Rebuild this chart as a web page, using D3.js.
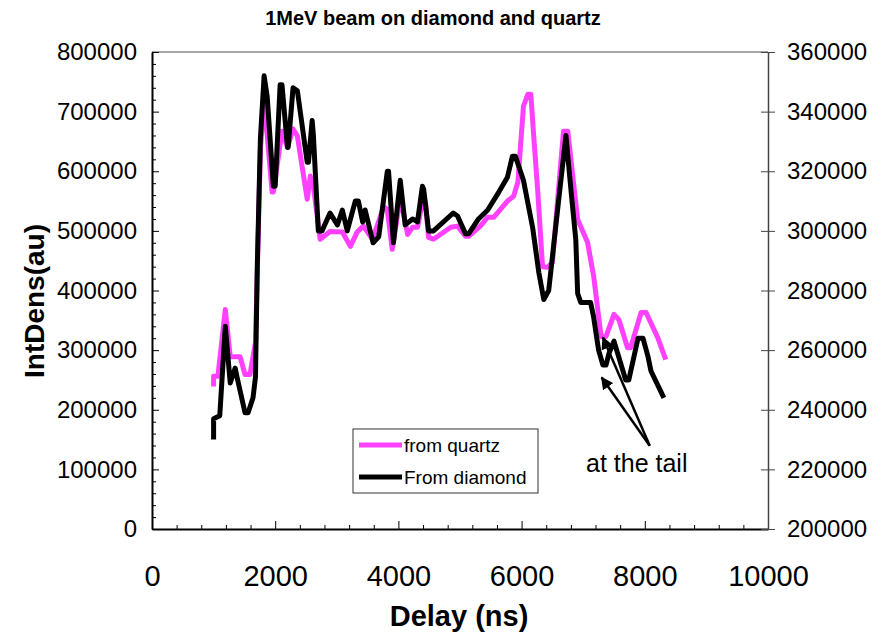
<!DOCTYPE html>
<html>
<head>
<meta charset="utf-8">
<script src="https://cdn.jsdelivr.net/npm/d3@7/dist/d3.min.js"></script>
<style>
  body { margin: 0; background: #fff; }
  svg { display: block; font-family: Arial, "Liberation Sans", sans-serif; }
</style>
</head>
<body>
<div id="chart"></div>
<script>
// x positions (ns) and values for each series
const quartzDelay = [1000,1000,1070,1190,1270,1430,1510,1590,1680,1760,1820,1950,1970,2110,2200,2290,2360,2520,2570,2620,2730,2890,3090,3220,3330,3430,3580,3760,3820,3900,4030,4150,4230,4310,4390,4440,4490,4570,4850,4960,5090,5140,5330,5450,5550,5770,5870,5940,6030,6100,6150,6200,6260,6340,6420,6500,6600,6680,6750,6830,6910,7070,7170,7290,7370,7500,7580,7720,7770,7940,8020,8210,8340];
const quartzInt = [239000,256000,256000,368000,289000,289000,259000,259000,313000,637000,721000,565000,565000,667000,640000,671000,659000,553000,592000,575000,486000,499000,498000,474000,498000,508000,486000,540000,536000,469000,556000,494000,506000,506000,548000,548000,489000,486000,506000,508000,491000,491000,508000,523000,523000,550000,558000,582000,709000,729000,729000,654000,570000,440000,439000,447000,570000,667000,667000,592000,519000,481000,424000,323000,323000,360000,351000,304000,304000,363000,363000,321000,284000];

const diamondDelay = [1000,1000,1100,1190,1270,1350,1380,1510,1560,1640,1680,1710,1760,1820,1870,1970,2000,2080,2110,2200,2210,2290,2360,2520,2540,2600,2620,2700,2760,2890,3010,3090,3170,3300,3350,3420,3460,3590,3680,3820,3840,3920,4030,4110,4230,4310,4390,4410,4490,4570,4890,4960,5090,5140,5300,5450,5630,5770,5850,5900,6030,6180,6280,6360,6440,6600,6720,6800,6880,6910,6960,7120,7170,7250,7320,7370,7420,7500,7690,7740,7890,7970,8050,8100,8310];
const diamondInt = [230000,237000,238000,268000,249000,254000,251000,239000,239000,244000,251000,289000,331000,352000,345000,315000,315000,349000,349000,328000,328000,348000,347000,323000,323000,337000,332000,300000,300000,306000,302000,307000,300000,310000,310000,303000,307000,296000,298000,320000,320000,296000,317000,302000,304000,303000,315000,314000,300000,300000,306000,305000,299000,299000,304000,307000,313000,318000,325000,325000,317000,301000,286000,277000,280000,310000,332000,314000,297000,279000,276000,276000,271000,260000,255000,255000,259000,263000,250000,250000,264000,264000,258000,253000,244000];

const xTicks = [0, 2000, 4000, 6000, 8000, 10000];
const yLeftTicks = [0, 100000, 200000, 300000, 400000, 500000, 600000, 700000, 800000];
const yRightTicks = [200000, 220000, 240000, 260000, 280000, 300000, 320000, 340000, 360000];

const seriesNames = ["from quartz", "From diamond"];
const titleText = "1MeV beam on diamond and quartz";
const xTitle = "Delay (ns)";
const yTitle = "IntDens(au)";
const noteText = "at the tail";
// arrow annotation: tail and two heads, in (delay, left-axis value)
const arrowTail = [8080, 139500];
const arrowHeads = [[7300, 254000], [7320, 321000]];

const width = 873;
const height = 639;
const marginLeft = 152;
const marginRight = 105;
const marginTop = 52;
const marginBottom = 110;

const pink = "#ff40ff";

const svg = d3.select("#chart").append("svg")
  .attr("width", width)
  .attr("height", height);

const x = d3.scaleLinear().domain([0, 10000]).range([marginLeft, width - marginRight]);
const y = d3.scaleLinear().domain([0, 800000]).range([height - marginBottom, marginTop]);
const y2 = d3.scaleLinear().domain([200000, 360000]).range([height - marginBottom, marginTop]);

// title
svg.append("text")
  .attr("x", 433).attr("y", 25)
  .attr("text-anchor", "middle")
  .style("font-size", "20px").style("font-weight", "bold")
  .text(titleText);

// top frame line
svg.append("line")
  .attr("x1", x(0)).attr("x2", x(10000))
  .attr("y1", y(800000)).attr("y2", y(800000))
  .attr("stroke", "#888").attr("stroke-width", 1.5);

// bottom axis: minor ticks, then labelled major ticks
const xMinor = d3.range(0, 10001, 400).filter(v => v % 2000 !== 0);
svg.append("g")
  .attr("transform", `translate(0,${y(0)})`)
  .call(d3.axisBottom(x).tickValues(xMinor).tickSize(-4).tickFormat(""))
  .call(g => g.select(".domain").remove());

const gx = svg.append("g")
  .attr("transform", `translate(0,${y(0)})`)
  .call(d3.axisBottom(x).tickValues(xTicks).tickSize(-8).tickPadding(36).tickFormat(d3.format("d")).tickSizeOuter(0));
gx.select(".domain").attr("stroke-width", 2);
gx.selectAll("text").style("font-size", "29px").attr("fill", "#000");

// left axis
const yMinor = d3.range(0, 800001, 20000).filter(v => v % 100000 !== 0);
svg.append("g")
  .attr("transform", `translate(${x(0)},0)`)
  .call(d3.axisLeft(y).tickValues(yMinor).tickSize(-4).tickFormat(""))
  .call(g => g.select(".domain").remove());

const gy = svg.append("g")
  .attr("transform", `translate(${x(0)},0)`)
  .call(d3.axisLeft(y).tickValues(yLeftTicks).tickSize(-7).tickPadding(15).tickFormat(d3.format("d")).tickSizeOuter(0));
gy.select(".domain").attr("stroke-width", 2);
gy.selectAll("text").style("font-size", "24px").attr("fill", "#000");

// right axis, ticks cross the line
const gy2 = svg.append("g")
  .attr("transform", `translate(${x(10000)},0)`)
  .call(d3.axisRight(y2).tickValues(yRightTicks).tickSize(7).tickPadding(12).tickFormat(d3.format("d")).tickSizeOuter(0));
gy2.selectAll(".tick line").attr("x1", -7).attr("stroke", "#444");
gy2.select(".domain").attr("stroke", "#444").attr("stroke-width", 1.5);
gy2.selectAll("text").style("font-size", "24px").attr("fill", "#000");

// axis titles
svg.append("text")
  .attr("x", 459).attr("y", 626)
  .attr("text-anchor", "middle")
  .style("font-size", "29px").style("font-weight", "bold")
  .text(xTitle);

svg.append("text")
  .attr("transform", "translate(44,301) rotate(-90)")
  .attr("text-anchor", "middle")
  .style("font-size", "28px").style("font-weight", "bold")
  .text(yTitle);

// lines
const quartz = quartzDelay.map((d, i) => [d, quartzInt[i]]);
const diamond = diamondDelay.map((d, i) => [d, diamondInt[i]]);

const lineLeft = d3.line().x(d => x(d[0])).y(d => y(d[1]));
const lineRight = d3.line().x(d => x(d[0])).y(d => y2(d[1]));

svg.append("path")
  .datum(quartz)
  .attr("d", lineLeft)
  .attr("fill", "none")
  .attr("stroke", pink)
  .attr("stroke-width", 5)
  .attr("stroke-linejoin", "round");

svg.append("path")
  .datum(diamond)
  .attr("d", lineRight)
  .attr("fill", "none")
  .attr("stroke", "#000")
  .attr("stroke-width", 5)
  .attr("stroke-linejoin", "round");

// arrows
const defs = svg.append("defs");
defs.append("marker")
  .attr("id", "arrowhead")
  .attr("viewBox", "0 0 10 10")
  .attr("refX", 9).attr("refY", 5)
  .attr("markerWidth", 5).attr("markerHeight", 5)
  .attr("orient", "auto")
  .append("path")
  .attr("d", "M0,0 L10,5 L0,10 z")
  .attr("fill", "#000");

arrowHeads.forEach(h => {
  svg.append("line")
    .attr("x1", x(arrowTail[0])).attr("y1", y(arrowTail[1]))
    .attr("x2", x(h[0])).attr("y2", y(h[1]))
    .attr("stroke", "#000").attr("stroke-width", 2.5)
    .attr("marker-end", "url(#arrowhead)");
});

svg.append("text")
  .attr("x", 586).attr("y", 472)
  .style("font-size", "25px")
  .text(noteText);

// legend
const legend = svg.append("g").attr("transform", "translate(353,429)");
legend.append("rect")
  .attr("width", 185).attr("height", 64)
  .attr("fill", "#fff").attr("stroke", "#333").attr("stroke-width", 1);

[pink, "#000"].forEach((c, i) => {
  const ly = 16 + i * 32;
  legend.append("line")
    .attr("x1", 6).attr("x2", 49)
    .attr("y1", ly).attr("y2", ly)
    .attr("stroke", c).attr("stroke-width", 5);
  legend.append("text")
    .attr("x", 51).attr("y", ly + 7)
    .style("font-size", "19px")
    .text(seriesNames[i]);
});
</script>
</body>
</html>
